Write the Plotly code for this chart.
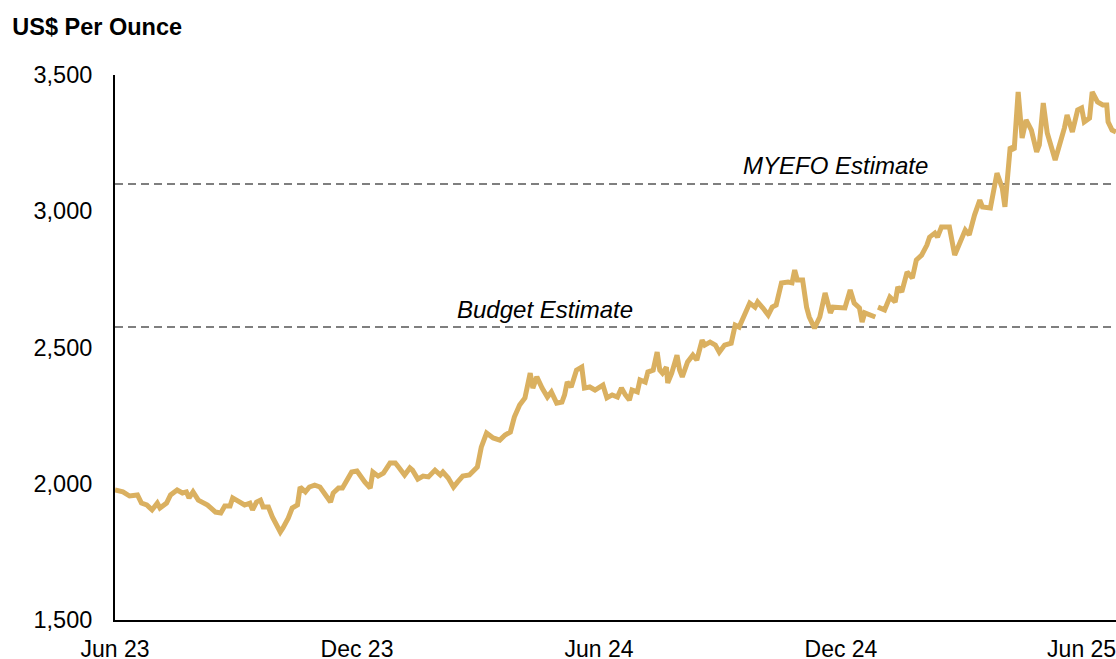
import plotly.graph_objects as go

# Gold price, US$ per ounce
dates = [
    '2023-06-01', '2023-06-07', '2023-06-12', '2023-06-18', '2023-06-21', '2023-06-25', '2023-06-29',
    '2023-07-03', '2023-07-05', '2023-07-10', '2023-07-13', '2023-07-18', '2023-07-22', '2023-07-25',
    '2023-07-27', '2023-07-30', '2023-08-03', '2023-08-10', '2023-08-16', '2023-08-20', '2023-08-23',
    '2023-08-27', '2023-08-29', '2023-09-04', '2023-09-07', '2023-09-11', '2023-09-13', '2023-09-16',
    '2023-09-19', '2023-09-21', '2023-09-25', '2023-09-28', '2023-09-30', '2023-10-04', '2023-10-06',
    '2023-10-10', '2023-10-13', '2023-10-17', '2023-10-19', '2023-10-23', '2023-10-26', '2023-10-30',
    '2023-11-03', '2023-11-07', '2023-11-11', '2023-11-13', '2023-11-17', '2023-11-20', '2023-11-23',
    '2023-11-27', '2023-12-01', '2023-12-03', '2023-12-07', '2023-12-11', '2023-12-13', '2023-12-17',
    '2023-12-21', '2023-12-26', '2023-12-30', '2024-01-02', '2024-01-06', '2024-01-10', '2024-01-12',
    '2024-01-16', '2024-01-20', '2024-01-24', '2024-01-29', '2024-02-02', '2024-02-04', '2024-02-08',
    '2024-02-12', '2024-02-15', '2024-02-19', '2024-02-24', '2024-03-01', '2024-03-04', '2024-03-08',
    '2024-03-13', '2024-03-18', '2024-03-22', '2024-03-26', '2024-03-29', '2024-04-02', '2024-04-06',
    '2024-04-08', '2024-04-10', '2024-04-12', '2024-04-15', '2024-04-19', '2024-04-23', '2024-04-26',
    '2024-04-30', '2024-05-04', '2024-05-06', '2024-05-08', '2024-05-11', '2024-05-15', '2024-05-19',
    '2024-05-21', '2024-05-25', '2024-05-29', '2024-05-31', '2024-06-04', '2024-06-07', '2024-06-11',
    '2024-06-15', '2024-06-18', '2024-06-21', '2024-06-24', '2024-06-26', '2024-06-30', '2024-07-02',
    '2024-07-06', '2024-07-08', '2024-07-12', '2024-07-15', '2024-07-17', '2024-07-19', '2024-07-22',
    '2024-07-23', '2024-07-26', '2024-07-30', '2024-08-01', '2024-08-03', '2024-08-07', '2024-08-11',
    '2024-08-14', '2024-08-18', '2024-08-20', '2024-08-24', '2024-08-28', '2024-08-31', '2024-09-04',
    '2024-09-09', '2024-09-12', '2024-09-15', '2024-09-19', '2024-09-23', '2024-09-27', '2024-09-29',
    '2024-10-03', '2024-10-07', '2024-10-10', '2024-10-13', '2024-10-17', '2024-10-22', '2024-10-25',
    '2024-10-27', '2024-10-29', '2024-11-02', '2024-11-05', '2024-11-07', '2024-11-11', '2024-11-15',
    '2024-11-19', '2024-11-23', '2024-11-25', '2024-11-30', '2024-12-04', '2024-12-08', '2024-12-11',
    '2024-12-15', '2024-12-17', '2024-12-19', '2024-12-23', '2024-12-27', '2024-12-28', '2024-12-29',
    '2025-01-03', '2025-01-07', '2025-01-11', '2025-01-13', '2025-01-16', '2025-01-20', '2025-01-24',
    '2025-01-27', '2025-01-31', '2025-02-04', '2025-02-06', '2025-02-10', '2025-02-12', '2025-02-15',
    '2025-02-21', '2025-02-25', '2025-03-01', '2025-03-05', '2025-03-08', '2025-03-12', '2025-03-16',
    '2025-03-18', '2025-03-24', '2025-03-29', '2025-04-02', '2025-04-04', '2025-04-08', '2025-04-11',
    '2025-04-14', '2025-04-17', '2025-04-20', '2025-04-24', '2025-04-28', '2025-04-30', '2025-05-03',
    '2025-05-06', '2025-05-12', '2025-05-15', '2025-05-19', '2025-05-21', '2025-05-25', '2025-05-29',
    '2025-06-01', '2025-06-03', '2025-06-07', '2025-06-09', '2025-06-13', '2025-06-17', '2025-06-20',
    '2025-06-21', '2025-06-24', '2025-06-27',
]
prices = [
    1977, 1970, 1955, 1959, 1929, 1922, 1904,
    1929, 1911, 1929, 1959, 1977, 1966, 1970,
    1948, 1970, 1940, 1922, 1896, 1893, 1918,
    1918, 1948, 1933, 1922, 1929, 1904, 1933,
    1940, 1915, 1915, 1878, 1860, 1823, 1838,
    1874, 1911, 1922, 1988, 1970, 1988, 1995,
    1988, 1959, 1933, 1966, 1984, 1984, 2013,
    2043, 2047, 2032, 2006, 1984, 2043, 2028,
    2039, 2076, 2076, 2058, 2032, 2058, 2050,
    2017, 2028, 2025, 2050, 2032, 2043, 2021,
    1988, 2006, 2028, 2032, 2061, 2134, 2186,
    2168, 2160, 2179, 2190, 2245, 2289, 2315,
    2362, 2406, 2351, 2392, 2351, 2318, 2337,
    2296, 2300, 2326, 2373, 2355, 2417, 2428,
    2351, 2355, 2344, 2351, 2362, 2315, 2326,
    2318, 2351, 2326, 2307, 2344, 2337, 2381,
    2373, 2410, 2417, 2483, 2417, 2406, 2428,
    2370, 2406, 2472, 2417, 2392, 2447, 2472,
    2454, 2527, 2509, 2520, 2509, 2483, 2509,
    2516, 2582, 2575, 2619, 2663, 2648, 2667,
    2645, 2619, 2648, 2656, 2737, 2740, 2737,
    2784, 2748, 2748, 2648, 2612, 2571, 2612,
    2700, 2627, 2648, 2645, 2645, 2711, 2663,
    2645, 2593, 2627, 2619, 2612, None, 2648,
    2638, 2685, 2667, 2722, 2704, 2777, 2755,
    2821, 2839, 2876, 2905, 2920, 2905, 2942,
    2942, 2839, 2887, 2931, 2913, 2986, 3041,
    3016, 3012, 3140, 3085, 3016, 3236, 3225,
    3438, 3269, 3335, 3298, 3218, 3243, 3397,
    3287, 3188, 3236, 3306, 3353, 3291, 3372,
    3379, 3328, 3342, 3438, 3401, 3390, 3390,
    3328, 3298, 3291,
]

budget_estimate = 2575
myefo_estimate = 3100

tick_dates = ['2023-06-01', '2023-12-01', '2024-06-01', '2024-12-01', '2025-06-01']
tick_labels = ['Jun 23', 'Dec 23', 'Jun 24', 'Dec 24', 'Jun 25']
y_ticks = [1500, 2000, 2500, 3000, 3500]

FONT = 'Arial, Liberation Sans, sans-serif'
GOLD = '#DAB060'

fig = go.Figure()

fig.add_trace(go.Scatter(
    x=dates,
    y=prices,
    mode='lines',
    line=dict(color=GOLD, width=5),
    connectgaps=False,
    hoverinfo='x+y',
    showlegend=False
))

# linhas de estimativa
for val in [budget_estimate, myefo_estimate]:
    fig.add_shape(
        type='line', xref='paper', yref='y',
        x0=0, x1=1, y0=val, y1=val,
        line=dict(color='#7F7F7F', width=2, dash='8px,5px'),
        layer='below'
    )

fig.add_annotation(
    x='2024-04-21', y=2640, text='<i>Budget Estimate</i>',
    showarrow=False, xanchor='center', yanchor='middle',
    font=dict(family=FONT, size=24, color='black')
)
fig.add_annotation(
    x='2024-11-27', y=3168, text='<i>MYEFO Estimate</i>',
    showarrow=False, xanchor='center', yanchor='middle',
    font=dict(family=FONT, size=24, color='black')
)

fig.update_layout(
    width=1116,
    height=659,
    margin=dict(l=115, r=0, t=75, b=39, autoexpand=False),
    plot_bgcolor='white',
    paper_bgcolor='white',
    font=dict(family=FONT, size=23, color='black'),
    title=dict(
        text='<b>US$ Per Ounce</b>',
        xref='container', yref='container',
        x=0.011, xanchor='left',
        y=0.959, yanchor='middle',
        font=dict(family=FONT, size=23.5, color='black')
    ),
    xaxis=dict(
        type='date',
        range=['2023-06-01', '2025-06-27'],
        tickvals=tick_dates,
        ticktext=tick_labels,
        showline=True, linecolor='black', linewidth=2,
        showgrid=False, zeroline=False,
        ticks='', ticklabelstandoff=7,
        ticklabeloverflow='allow',
        automargin=False,
        tickfont=dict(family=FONT, size=23)
    ),
    yaxis=dict(
        range=[1500, 3500],
        tickvals=y_ticks,
        tickformat=',',
        showline=True, linecolor='black', linewidth=2,
        showgrid=False, zeroline=False,
        ticks='', ticklabelstandoff=16,
        automargin=False,
        tickfont=dict(family=FONT, size=23.5)
    )
)

# tira a margem padrão da página para a figura ficar no canto
fig.write_html(
    'out.html',
    config={'displayModeBar': False},
    post_script="document.body.style.margin='0';"
)
